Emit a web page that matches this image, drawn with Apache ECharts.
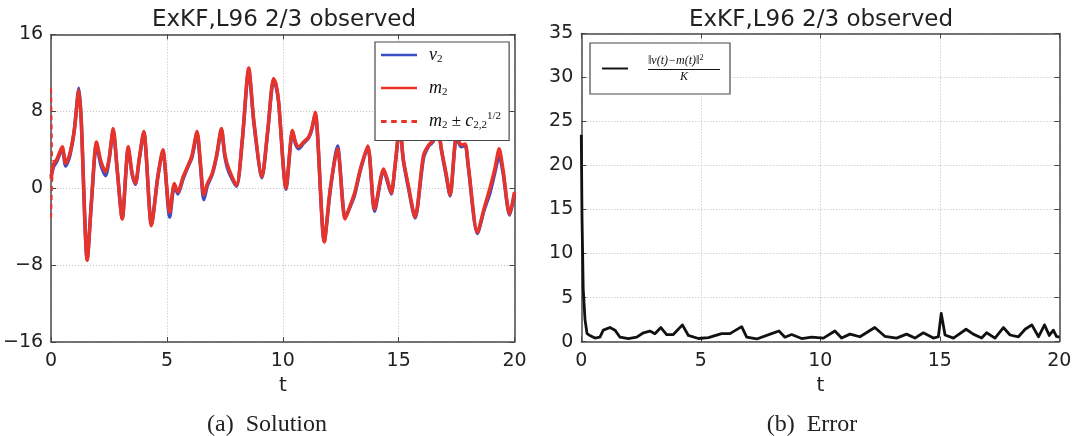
<!DOCTYPE html>
<html>
<head>
<meta charset="utf-8">
<title>ExKF, L96 2/3 observed</title>
<script src="https://cdn.jsdelivr.net/npm/echarts@6.0.0/dist/echarts.min.js"></script>
<style>
  html, body { margin: 0; padding: 0; background: #fff; }
  #chart { width: 1081px; height: 436px; }
</style>
</head>
<body>
<div id="chart"></div>
<script>
// axis ticks
const xTicks = [0, 5, 10, 15, 20];
const yTicksSol = [-16, -8, 0, 8, 16];
const yTicksErr = [0, 5, 10, 15, 20, 25, 30, 35];

// (a) solution: times and values
const mT = [0, 0.1, 0.25, 0.48, 0.63, 0.8, 1.0, 1.2, 1.3, 1.56, 1.75, 1.96, 2.15, 2.35, 2.5, 2.68, 2.85, 3.07, 3.33, 3.5,
  3.64, 3.8, 4.0, 4.33, 4.6, 4.82, 5.12, 5.32, 5.47, 5.7, 5.9, 6.08, 6.3, 6.45, 6.59, 6.75, 6.95, 7.15, 7.35, 7.5,
  7.67, 8.0, 8.25, 8.53, 8.75, 9.1, 9.35, 9.6, 9.7, 9.82, 10.14, 10.42, 10.55, 10.68, 10.9, 11.11, 11.25, 11.4, 11.79, 12.05,
  12.36, 12.69, 12.91, 13.1, 13.35, 13.67, 13.96, 14.35, 14.5, 14.68, 14.85, 15.05, 15.2, 15.4, 15.71, 16.07, 16.3, 16.5, 16.65, 16.85,
  17.05, 17.22, 17.5, 17.7, 17.87, 18.0, 18.4, 18.7, 18.94, 19.15, 19.34, 19.5, 19.79, 20];
const m2 = [1.0, 2.5, 3.0, 4.3, 2.6, 3.5, 6.0, 10.2, 7.0, -7.5, -1.0, 4.8, 2.8, 1.7, 3.0, 6.2, 2.0, -3.2, 4.3, 1.5,
  0.5, 3.0, 5.9, -3.9, 1.0, 4.0, -2.5, 0.5, -0.4, 1.2, 2.3, 3.4, 5.9, 2.5, -0.7, 0.5, 1.5, 3.5, 6.2, 3.5,
  2.0, 0.3, 5.0, 12.5, 7.0, 1.2, 6.0, 11.4, 10.9, 9.0, 0.0, 6.0, 4.8, 4.3, 4.8, 5.3, 6.2, 7.9, -5.6, 0.0,
  4.1, -3.2, -1.8, -0.5, 2.0, 4.4, -2.2, 2.0, 1.0, -0.5, 2.5, 6.5, 3.0, 0.5, -3.0, 3.4, 4.5, 5.0, 7.0, 4.0,
  1.5, -0.7, 5.5, 4.5, 4.6, 2.5, -4.6, -2.0, 0.0, 2.0, 4.1, 2.0, -2.7, -0.4];
const v2 = [1.2, 2.2, 2.8, 4.1, 2.3, 3.3, 6.0, 10.4, 7.2, -7.4, -1.2, 4.6, 2.4, 1.3, 2.9, 6.0, 2.0, -3.1, 4.1, 1.4,
  0.4, 2.9, 5.8, -3.8, 1.1, 3.9, -3.0, 0.3, -0.6, 1.0, 2.2, 3.2, 5.7, 2.2, -1.2, 0.3, 1.4, 3.4, 6.1, 3.3,
  1.7, 0.2, 4.9, 12.3, 6.8, 1.1, 5.9, 11.2, 10.7, 8.9, -0.1, 5.9, 4.6, 4.1, 4.7, 5.2, 6.1, 7.7, -5.5, -0.2,
  4.4, -3.1, -1.9, -0.7, 1.9, 4.3, -2.4, 1.9, 0.8, -0.6, 2.4, 6.4, 2.9, 0.3, -3.1, 3.1, 4.4, 4.9, 6.9, 3.9,
  1.3, -0.8, 5.3, 4.3, 4.5, 2.3, -4.7, -2.2, -0.5, 1.6, 3.4, 1.7, -2.8, -0.6];
// m2 +/- sqrt(c22): only the start is visible, later it hides under m2
const bandT = [0, 0.04, 0.1];
const bandUp = [10.4, 3.4, 2.8];
const bandLo = [-3.1, 0.6, 2.2];

// (b) error
const errT = [0, 0.03, 0.08, 0.155, 0.24, 0.36, 0.57, 0.78, 0.92, 1.2, 1.41, 1.62, 1.97, 2.32, 2.6, 2.87, 3.08, 3.33, 3.57, 3.85,
  4.23, 4.48, 4.9, 5.32, 5.87, 6.22, 6.71, 6.92, 7.34, 7.96, 8.27, 8.52, 8.8, 9.22, 9.64, 10.13, 10.61, 10.89, 11.24, 11.66,
  12.28, 12.7, 13.19, 13.61, 13.96, 14.31, 14.73, 14.94, 15.06, 15.22, 15.57, 16.1, 16.4, 16.75, 16.96, 17.31, 17.66, 17.94, 18.29, 18.57,
  18.85, 19.13, 19.38, 19.58, 19.75, 19.88, 20];
const errV = [23.5, 14, 6, 2.5, 0.9, 0.7, 0.4, 0.5, 1.3, 1.6, 1.3, 0.5, 0.35, 0.5, 1.0, 1.2, 0.9, 1.6, 0.8, 0.8,
  1.9, 0.7, 0.35, 0.45, 0.9, 0.9, 1.7, 0.5, 0.3, 0.9, 1.2, 0.5, 0.8, 0.35, 0.5, 0.4, 1.2, 0.4, 0.85, 0.55,
  1.6, 0.6, 0.4, 0.85, 0.4, 1.0, 0.4, 0.55, 3.2, 0.75, 0.4, 1.4, 0.85, 0.4, 1.0, 0.4, 1.6, 0.75, 0.55, 1.4,
  1.9, 0.55, 1.9, 0.7, 1.3, 0.6, 0.5];

const pairs = (ts, vs) => ts.map((t, i) => [t, vs[i]]);

const BLUE = '#3a4cc4';
const RED = '#e8332a';
const FRAME = '#4a4a4a';
const FONT = 'DejaVu Sans';
const SERIF = 'Liberation Serif';
// legend icons: a flat bar, and a dashed bar
const SOLID_ICON = 'path://M0,0h40v3h-40z';
const DASH_ICON = 'path://M0,0h6v3h-6zM11,0h6v3h-6zM22,0h6v3h-6zM33,0h6v3h-6z';

const minus = v => (v < 0 ? '\u2212' + Math.abs(v) : String(v));

// frame edges are drawn as axis lines so they sit above the dotted grid
const frameLine = { show: true, onZero: false, lineStyle: { color: FRAME, width: 1.5 } };

function mainX(grid) {
  return {
    type: 'value', gridIndex: grid, min: xTicks[0], max: xTicks[xTicks.length - 1], interval: xTicks[1] - xTicks[0],
    name: 't', nameLocation: 'middle', nameGap: 34,
    nameTextStyle: { fontFamily: FONT, fontSize: 20, color: '#222' },
    axisLine: frameLine,
    axisTick: { inside: true, length: 5, lineStyle: { color: '#444' } },
    axisLabel: { fontFamily: FONT, fontSize: 19, color: '#222', margin: 10 },
    splitLine: { show: true, lineStyle: { type: [1, 2], color: '#bdbdbd', width: 1 } }
  };
}
function mainY(grid, ticks) {
  return {
    type: 'value', gridIndex: grid, min: ticks[0], max: ticks[ticks.length - 1], interval: ticks[1] - ticks[0],
    axisLine: frameLine,
    axisTick: { inside: true, length: 5, lineStyle: { color: '#444' } },
    axisLabel: { fontFamily: FONT, fontSize: 19, color: '#222', margin: 8, formatter: minus },
    splitLine: { show: true, lineStyle: { type: [1, 2], color: '#bdbdbd', width: 1 } }
  };
}
// tick marks only, on the top / right edge of the frame
function sideX(grid) {
  const a = mainX(grid);
  return Object.assign(a, { position: 'top', name: '', axisLabel: { show: false }, splitLine: { show: false } });
}
function sideY(grid, ticks) {
  const a = mainY(grid, ticks);
  return Object.assign(a, { position: 'right', axisLabel: { show: false }, splitLine: { show: false } });
}

const chart = echarts.init(document.getElementById('chart'), null, { renderer: 'canvas' });

chart.setOption({
  backgroundColor: '#fff',
  animation: false,
  title: [
    { text: 'ExKF,L96 2/3 observed', left: 284, top: 8, textAlign: 'center', padding: 0,
      textStyle: { fontFamily: FONT, fontSize: 23, fontWeight: 'normal', color: '#222', lineHeight: 25 } },
    { text: 'ExKF,L96 2/3 observed', left: 821, top: 8, textAlign: 'center', padding: 0,
      textStyle: { fontFamily: FONT, fontSize: 23, fontWeight: 'normal', color: '#222', lineHeight: 25 } },
    { text: '(a)  Solution', left: 267, top: 411, textAlign: 'center', padding: 0,
      textStyle: { fontFamily: SERIF, fontSize: 24, fontWeight: 'normal', color: '#222', lineHeight: 28 } },
    { text: '(b)  Error', left: 812, top: 411, textAlign: 'center', padding: 0,
      textStyle: { fontFamily: SERIF, fontSize: 24, fontWeight: 'normal', color: '#222', lineHeight: 28 } }
  ],
  grid: [
    { left: 50.5, right: 566.5, top: 34.4, bottom: 94 },
    { left: 581.3, right: 21.7, top: 33.4, bottom: 94.4 }
  ],
  xAxis: [mainX(0), mainX(1), sideX(0), sideX(1)],
  yAxis: [mainY(0, yTicksSol), mainY(1, yTicksErr), sideY(0, yTicksSol), sideY(1, yTicksErr)],
  legend: [
    {
      data: [
        { name: 'v2', icon: SOLID_ICON },
        { name: 'm2', icon: SOLID_ICON },
        { name: 'band', icon: DASH_ICON }
      ],
      orient: 'vertical', left: 375, top: 42,
      padding: [3, 8, 9, 6], itemGap: 13, itemWidth: 36, itemHeight: 3,
      backgroundColor: '#fff', borderColor: FRAME, borderWidth: 1.2, borderRadius: 0,
      formatter: name => ({
        v2: '{it|v}{sb|2}',
        m2: '{it|m}{sb|2}',
        band: '{it|m}{sb|2}{n| \u00b1 }{it|c}{sb|2,2}{sp|1/2}'
      })[name],
      textStyle: {
        width: 70, padding: [0, 0, 0, 7], lineHeight: 20, color: '#111',
        rich: {
          it: { fontFamily: SERIF, fontStyle: 'italic', fontSize: 18, color: '#111' },
          n: { fontFamily: SERIF, fontSize: 17, color: '#111' },
          sb: { fontFamily: SERIF, fontSize: 11, color: '#111', padding: [8, 0, 0, 0] },
          sp: { fontFamily: SERIF, fontSize: 11, color: '#111', padding: [0, 0, 10, 0] }
        }
      }
    },
    {
      data: [{ name: 'err', icon: SOLID_ICON }],
      left: 590, top: 43,
      padding: [11, 10, 11, 12], itemWidth: 26, itemHeight: 3,
      backgroundColor: '#fff', borderColor: FRAME, borderWidth: 1.2, borderRadius: 0,
      formatter: () => '{num|\u2016v(t)\u2212m(t)\u2016}{sp|2}\n{bar| }\n{den|K}',
      textStyle: {
        width: 72, padding: [0, 0, 0, 15], color: '#111',
        rich: {
          num: { fontFamily: SERIF, fontStyle: 'italic', fontSize: 12, lineHeight: 12, color: '#111' },
          sp: { fontFamily: SERIF, fontSize: 8, color: '#111', padding: [0, 0, 6, 0] },
          bar: { width: 72, height: 1, fontSize: 1, lineHeight: 3, backgroundColor: '#111' },
          den: { width: 72, align: 'center', fontFamily: SERIF, fontStyle: 'italic', fontSize: 12, lineHeight: 12, color: '#111' }
        }
      }
    }
  ],
  series: [
    {
      name: 'band', type: 'line', xAxisIndex: 0, yAxisIndex: 0, symbol: 'none', clip: false, z: 1,
      data: pairs(bandT, bandUp),
      lineStyle: { color: RED, width: 2, type: [5, 4] }, itemStyle: { color: RED }
    },
    {
      name: 'band', type: 'line', xAxisIndex: 0, yAxisIndex: 0, symbol: 'none', clip: false, z: 1,
      data: pairs(bandT, bandLo),
      lineStyle: { color: RED, width: 2, type: [5, 4] }, itemStyle: { color: RED }
    },
    {
      name: 'v2', type: 'line', xAxisIndex: 0, yAxisIndex: 0, symbol: 'none', z: 2, smooth: 0.25,
      data: pairs(mT, v2),
      lineStyle: { color: BLUE, width: 3.5, join: 'round' }, itemStyle: { color: BLUE }
    },
    {
      name: 'm2', type: 'line', xAxisIndex: 0, yAxisIndex: 0, symbol: 'none', z: 3, smooth: 0.25,
      data: pairs(mT, m2),
      lineStyle: { color: RED, width: 3.5, join: 'round' }, itemStyle: { color: RED }
    },
    {
      name: 'err', type: 'line', xAxisIndex: 1, yAxisIndex: 1, symbol: 'none', z: 3,
      data: pairs(errT, errV),
      lineStyle: { color: '#111', width: 2.8, join: 'round' }, itemStyle: { color: '#111' }
    }
  ]
});
</script>
</body>
</html>
